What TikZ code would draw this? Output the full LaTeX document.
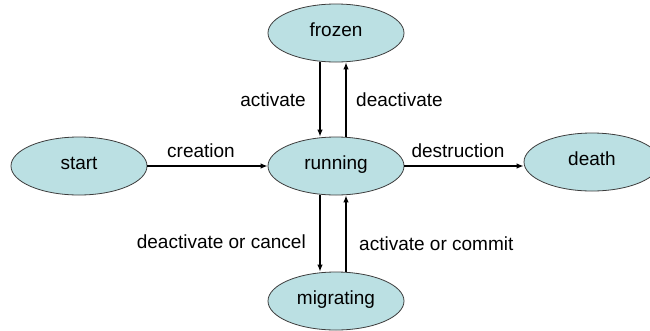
\documentclass[tikz,border=0pt]{standalone}
\usepackage{fontspec}
\setmainfont{Liberation Sans}
\usetikzlibrary{shapes.geometric,arrows.meta}
\definecolor{statefill}{RGB}{187,224,227}
\definecolor{stateline}{RGB}{60,60,60}
\tikzset{
  state/.style={ellipse, draw=stateline, line width=0.8pt, fill=statefill,
    minimum width=136pt, minimum height=58pt, inner sep=0pt,
    font=\fontsize{19}{22}\selectfont, text height=0.9em, text depth=0.21em},
  trans/.style={draw=black, line width=1.2pt, -{Latex[length=7pt,width=5.5pt]}},
  lbl/.style={font=\fontsize{19}{22}\selectfont, inner sep=0pt}
}
\begin{document}
\begin{tikzpicture}[x=1pt,y=-1pt]
  \clip (0,0) rectangle (650,330);
  \fill[white] (0,0) rectangle (650,330);

  % states
  \node[state] (frozen)    at (336,33)  {frozen};
  \node[state] (start)     at (79,166)  {start};
  \node[state] (running)   at (336,166) {running};
  \node[state] (death)     at (592,162) {death};
  \node[state] (migrating) at (336,301) {migrating};

  % transitions
  \draw[trans] (start.east) -- (running.west);
  \draw[trans] (running.east) -- (running.east -| death.west);
  \draw[trans] ([xshift=-16pt]frozen.south) -- ([xshift=-16pt]running.north);
  \draw[trans] ([xshift=10pt]running.north) -- ([xshift=10pt]frozen.south);
  \draw[trans] ([xshift=-16pt]running.south) -- ([xshift=-16pt]migrating.north);
  \draw[trans] ([xshift=10pt]migrating.north) -- ([xshift=10pt]running.south);

  % transition labels
  \node[lbl, anchor=base east] (lactivate)   at (306,106) {activate};
  \node[lbl, anchor=base west] (ldeactivate) at (356,106) {deactivate};
  \node[lbl, anchor=base]      (lcreation)   at (201,157) {creation};
  \node[lbl, anchor=base]      (ldestroy)    at (458,157) {destruction};
  \node[lbl, anchor=base east] (lcancel)     at (306,248) {deactivate or cancel};
  \node[lbl, anchor=base west] (lcommit)     at (359,250) {activate or commit};
\end{tikzpicture}
\end{document}
